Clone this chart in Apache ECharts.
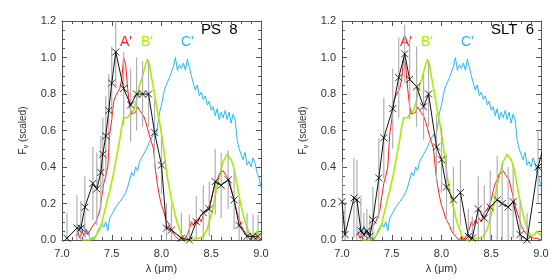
<!DOCTYPE html>
<html><head><meta charset="utf-8">
<script src="https://cdn.jsdelivr.net/npm/echarts@6/dist/echarts.min.js"></script>
<style>html,body{margin:0;padding:0;background:#fff}#c{width:560px;height:280px}</style>
</head><body><div id="c"></div>
<script>
// ---- Data ----
const xTicks = [7.0, 7.5, 8.0, 8.5, 9.0];
const yTicks = [0.0, 0.2, 0.4, 0.6, 0.8, 1.0, 1.2];
const panelTitles = ['PS  8', 'SLT  6'];
const curveLabels = ["A'", "B'", "C'"];

// A' (red)
const redLam = [7.14,7.16,7.18,7.20,7.22,7.24,7.26,7.28,7.30,7.32,7.34,7.36,7.38,7.40,7.42,7.44,7.46,7.48,7.50,7.52,7.54,7.56,7.58,7.60,7.62,7.64,7.66,7.68,7.70,7.72,7.74,7.76,7.78,7.80,7.82,7.84,7.86,7.88,7.90,7.92,7.94,7.96,7.98,8.00,8.02,8.04,8.06,8.08,8.10,8.12,8.14,8.16,8.18,8.20,8.22,8.24,8.26,8.28,8.30,8.32,8.34,8.36,8.38,8.40,8.42,8.44,8.46,8.48,8.50,8.52,8.54,8.56,8.58,8.60,8.62,8.64,8.66,8.68,8.70,8.72,8.74,8.76,8.78,8.80,8.82,8.84,8.86,8.88,8.90,8.92,8.94,8.96,8.98,9.00];
const redVal = [0.02,0.04,0.01,0.05,0.02,0.06,0.03,0.05,0.07,0.06,0.10,0.13,0.16,0.24,0.31,0.35,0.40,0.58,0.66,0.76,0.79,0.80,0.83,0.88,1.00,0.96,0.83,0.73,0.69,0.68,0.70,0.73,0.71,0.72,0.68,0.65,0.61,0.57,0.58,0.50,0.38,0.30,0.24,0.19,0.16,0.12,0.10,0.08,0.05,0.06,0.02,0.03,0.00,0.02,0.00,0.01,0.03,0.06,0.10,0.08,0.11,0.09,0.12,0.10,0.14,0.13,0.17,0.19,0.22,0.27,0.31,0.33,0.36,0.35,0.38,0.36,0.37,0.33,0.28,0.24,0.19,0.15,0.12,0.08,0.06,0.04,0.05,0.02,0.02,0.01,0.02,0.01,0.01,0.00];

// B' (green)
const greenLam = [7.20,7.22,7.24,7.26,7.28,7.30,7.32,7.34,7.36,7.38,7.40,7.42,7.44,7.46,7.48,7.50,7.52,7.54,7.56,7.58,7.60,7.62,7.64,7.66,7.68,7.70,7.72,7.74,7.76,7.78,7.80,7.82,7.84,7.86,7.88,7.90,7.92,7.94,7.96,7.98,8.00,8.02,8.04,8.06,8.08,8.10,8.12,8.14,8.16,8.18,8.20,8.22,8.24,8.26,8.28,8.30,8.32,8.34,8.36,8.38,8.40,8.42,8.44,8.46,8.48,8.50,8.52,8.54,8.56,8.58,8.60,8.62,8.64,8.66,8.68,8.70,8.72,8.74,8.76,8.78,8.80,8.82,8.84,8.86,8.88,8.90,8.92,8.94,8.96,8.98,9.00];
const greenVal = [0.00,0.01,0.00,0.01,0.00,0.00,0.01,0.02,0.04,0.06,0.09,0.14,0.18,0.23,0.27,0.32,0.37,0.43,0.49,0.55,0.62,0.67,0.68,0.67,0.69,0.70,0.71,0.75,0.79,0.85,0.88,0.92,0.96,0.99,0.96,0.89,0.83,0.77,0.70,0.65,0.58,0.51,0.42,0.34,0.28,0.22,0.18,0.13,0.09,0.06,0.03,0.01,0.00,0.00,0.01,0.00,0.00,0.01,0.00,0.01,0.01,0.02,0.03,0.06,0.10,0.14,0.18,0.24,0.30,0.35,0.39,0.43,0.45,0.47,0.47,0.44,0.41,0.36,0.30,0.24,0.19,0.14,0.10,0.07,0.04,0.02,0.02,0.03,0.05,0.04,0.02];

// C' (blue)
const blueLam = [7.16,7.18,7.20,7.22,7.24,7.26,7.28,7.30,7.32,7.34,7.36,7.38,7.40,7.42,7.44,7.46,7.48,7.50,7.52,7.54,7.56,7.58,7.60,7.62,7.64,7.66,7.68,7.70,7.72,7.74,7.76,7.78,7.80,7.82,7.84,7.86,7.88,7.90,7.92,7.94,7.96,7.98,8.00,8.02,8.04,8.06,8.08,8.10,8.12,8.14,8.16,8.18,8.20,8.22,8.24,8.26,8.28,8.30,8.32,8.34,8.36,8.38,8.40,8.42,8.44,8.46,8.48,8.50,8.52,8.54,8.56,8.58,8.60,8.62,8.64,8.66,8.68,8.70,8.72,8.74,8.76,8.78,8.80,8.82,8.84,8.86,8.88,8.90,8.92,8.94,8.96,8.98,9.00];
const blueVal = [0.03,0.07,0.04,0.08,0.03,0.05,0.01,0.02,0.00,0.02,0.05,0.04,0.09,0.07,0.10,0.05,0.12,0.14,0.15,0.18,0.17,0.21,0.20,0.24,0.26,0.29,0.33,0.37,0.35,0.40,0.38,0.43,0.42,0.47,0.46,0.51,0.54,0.53,0.58,0.56,0.62,0.70,0.74,0.80,0.84,0.83,0.89,0.88,0.95,1.00,0.93,0.96,0.94,0.97,0.93,0.99,1.00,0.90,0.86,0.82,0.85,0.79,0.81,0.77,0.79,0.74,0.76,0.71,0.73,0.68,0.72,0.66,0.70,0.67,0.71,0.66,0.70,0.64,0.69,0.66,0.55,0.50,0.47,0.44,0.48,0.41,0.43,0.40,0.45,0.42,0.37,0.34,0.29];

// PS 8 (black, with errors)
const ps8Lam = [7.05,7.15,7.19,7.23,7.31,7.35,7.39,7.41,7.44,7.47,7.50,7.54,7.62,7.69,7.75,7.81,7.87,7.93,8.00,8.05,8.10,8.20,8.28,8.35,8.42,8.48,8.54,8.60,8.67,8.73,8.78,8.86,8.92,8.97];
const ps8Val = [0.01,0.065,0.065,0.18,0.31,0.28,0.37,0.47,0.57,0.71,0.86,1.03,0.83,0.74,0.80,0.80,0.80,0.59,0.41,0.065,0.055,0.01,0.00,0.10,0.15,0.17,0.32,0.30,0.33,0.22,0.08,0.02,0.02,0.02];
const ps8Err = [0.14,0.18,0.15,0.17,0.20,0.20,0.20,0.20,0.22,0.20,0.20,0.20,0.20,0.20,0.20,0.18,0.18,0.18,0.16,0.14,0.14,0.14,0.14,0.14,0.15,0.15,0.18,0.18,0.16,0.16,0.14,0.13,0.12,0.12];

// SLT 6 (black, with errors)
const slt6Lam = [7.00,7.03,7.12,7.15,7.19,7.22,7.25,7.28,7.31,7.37,7.42,7.51,7.57,7.63,7.68,7.75,7.82,7.87,7.95,8.00,8.05,8.12,8.19,8.27,8.31,8.37,8.43,8.49,8.56,8.61,8.67,8.72,8.79,8.86,8.97,9.02];
const slt6Val = [0.21,0.03,0.23,0.22,0.05,0.03,0.05,0.02,0.11,0.34,0.56,0.72,0.89,1.02,0.88,0.84,0.73,0.80,0.51,0.44,0.29,0.22,0.26,0.02,0.01,0.17,0.12,0.18,0.22,0.20,0.18,0.21,0.03,0.00,0.40,0.50];
const slt6Err = [0.22,0.18,0.22,0.22,0.18,0.12,0.12,0.12,0.18,0.22,0.22,0.22,0.22,0.16,0.22,0.22,0.18,0.18,0.18,0.18,0.18,0.18,0.18,0.15,0.12,0.18,0.18,0.20,0.24,0.22,0.22,0.20,0.18,0.15,0.20,0.20];

// ---- Chart ----
const FONT = 'Liberation Sans';
const zip = (a, b) => a.map((x, i) => [x, b[i]]);
const chart = echarts.init(document.getElementById('c'), null, {renderer: 'canvas'});

const grids = [
  {left: 62, top: 21, width: 199, height: 219},
  {left: 342, top: 21, width: 199, height: 219}
];
const axLine = {lineStyle: {color: '#555', width: 1}};
function xAx(g, pos, labels) {
  return {type: 'value', gridIndex: g, position: pos, min: 7, max: 9, interval: 0.5,
    axisLine: {show: true, onZero: false, ...axLine},
    axisTick: {show: true, inside: true, length: 5, lineStyle: {color: '#555'}},
    minorTick: {show: true, splitNumber: 5, length: 3, lineStyle: {color: '#555'}},
    splitLine: {show: false},
    axisLabel: {show: labels, margin: 8, color: '#333', fontFamily: FONT, fontSize: 11,
      formatter: v => v.toFixed(1)},
    name: labels ? 'λ (μm)' : '', nameLocation: 'middle', nameGap: 20,
    nameTextStyle: {color: '#333', fontFamily: FONT, fontSize: 11}};
}
function yAx(g, pos, labels) {
  return {type: 'value', gridIndex: g, position: pos, min: 0, max: 1.2, interval: 0.2,
    axisLine: {show: true, onZero: false, ...axLine},
    axisTick: {show: true, inside: true, length: 5, lineStyle: {color: '#555'}},
    minorTick: {show: true, splitNumber: 4, length: 3, lineStyle: {color: '#555'}},
    splitLine: {show: false},
    axisLabel: {show: labels, margin: 6, color: '#333', fontFamily: FONT, fontSize: 11,
      formatter: v => v.toFixed(1)},
    name: labels ? '{a|F}{s|ν} {a|(scaled)}' : '', nameLocation: 'middle', nameGap: 32,
    nameRotate: 90,
    nameTextStyle: {color: '#333', fontFamily: FONT, fontSize: 10,
      rich: {a: {fontFamily: FONT, fontSize: 10, color: '#333'},
             s: {fontFamily: FONT, fontSize: 7, color: '#333', verticalAlign: 'bottom', padding: [6, 0, 0, 0]}}}};
}

const RED = '#ff1a1a', GREEN = '#a6ee00', BLUE = '#29b6f6';

function panelSeries(p, lam, val, err) {
  const xi = p * 2, yi = p * 2;
  const common = {xAxisIndex: xi, yAxisIndex: yi, showSymbol: false, animation: false, clip: true};
  return [
    {type: 'line', ...common, data: zip(blueLam, blueVal), lineStyle: {color: BLUE, width: 1}, z: 2},
    {type: 'line', ...common, data: zip(greenLam, greenVal), lineStyle: {color: GREEN, width: 1.6}, z: 3},
    {type: 'line', ...common, data: zip(redLam, redVal), lineStyle: {color: RED, width: 1}, z: 4},
    {type: 'custom', xAxisIndex: xi, yAxisIndex: yi, animation: false, clip: true, z: 5,
      data: lam.map((x, i) => [x, Math.max(0, val[i] - err[i]), val[i] + err[i]]),
      renderItem: (params, api) => {
        const a = api.coord([api.value(0), api.value(1)]);
        const b = api.coord([api.value(0), api.value(2)]);
        return {type: 'line', shape: {x1: a[0], y1: a[1], x2: b[0], y2: b[1]},
          style: {stroke: '#b0b0b0', lineWidth: 1.2}};
      }},
    {type: 'line', xAxisIndex: xi, yAxisIndex: yi, animation: false, clip: true, z: 6,
      data: zip(lam, val), showSymbol: true, symbol: 'path://M0 0L10 10M10 0L0 10',
      symbolSize: 7, itemStyle: {color: 'rgba(0,0,0,0)', borderColor: '#000', borderWidth: 0.8},
      lineStyle: {color: '#111', width: 1}}
  ];
}

function txt(x, y, text, color, size) {
  return {type: 'text', left: x, top: y, silent: true,
    style: {text, fill: color, font: `${size}px "${FONT}"`}};
}

const option = {
  animation: false,
  backgroundColor: '#fff',
  grid: grids,
  xAxis: [xAx(0, 'bottom', true), xAx(0, 'top', false), xAx(1, 'bottom', true), xAx(1, 'top', false)],
  yAxis: [yAx(0, 'left', true), yAx(0, 'right', false), yAx(1, 'left', true), yAx(1, 'right', false)],
  series: [...panelSeries(0, ps8Lam, ps8Val, ps8Err), ...panelSeries(1, slt6Lam, slt6Val, slt6Err)],
  graphic: [
    txt(201, 22, panelTitles[0], '#000', 15),
    txt(491, 22, panelTitles[1], '#000', 15),
    txt(120, 35, curveLabels[0], RED, 14),
    txt(141, 35, curveLabels[1], GREEN, 14),
    txt(181, 35, curveLabels[2], BLUE, 14),
    txt(400, 35, curveLabels[0], RED, 14),
    txt(421, 35, curveLabels[1], GREEN, 14),
    txt(461, 35, curveLabels[2], BLUE, 14)
  ]
};
chart.setOption(option);
</script></body></html>
